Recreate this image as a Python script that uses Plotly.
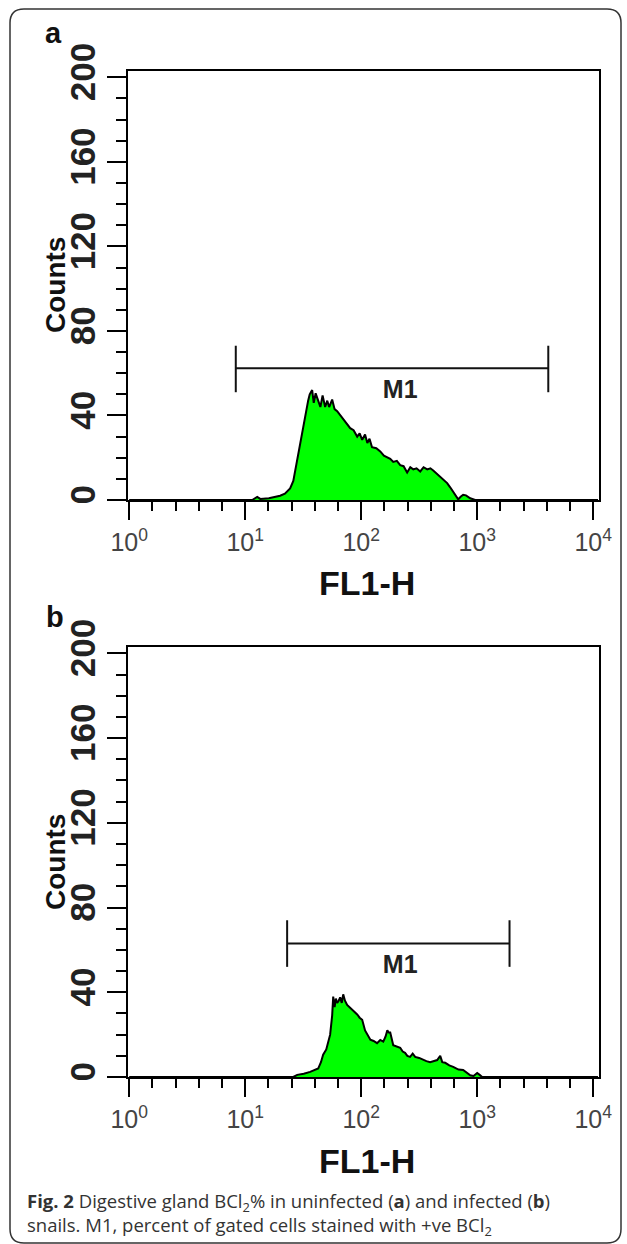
import plotly.graph_objects as go

W, H = 627, 1244

# ---------------- data ----------------
# Panel a (uninfected): FL1-H channel value vs counts
a_fl1 = [1, 11.5, 12.7, 13.5, 16, 18, 20, 22, 24.4, 26, 27, 28.5, 29.8, 31.5, 32.9, 34, 34.9, 36,
         37.8, 39, 40.5, 42.6, 44.5, 46.5, 48.9, 51, 53, 56.2, 59, 62.1, 66, 70, 74, 80.4, 86,
         92.4, 97, 102, 108, 113, 118, 124, 135, 146, 157, 168, 178, 189, 203, 217, 232, 249,
         265, 281, 300, 323, 345, 371, 395, 418, 450, 480, 515, 551, 585, 621, 655, 686, 720,
         757, 800, 871, 961, 11000]
a_counts = [0, 0, 1.5, 0.5, 0.8, 1.5, 2, 3, 5.5, 9, 14, 20, 27, 33, 39, 44, 47, 50,
            52, 46, 50.5, 47, 44, 49.5, 44, 47, 44, 47.5, 43, 42, 40, 38, 36.5, 34, 33,
            30, 31.5, 28.5, 31, 27, 29, 25, 24.5, 23, 21, 20, 19.5, 18, 18.5, 16.5, 16, 13,
            15.5, 14.5, 15, 13.5, 15.5, 14.5, 15, 14, 12.5, 11, 9.5, 8, 6, 4, 2, 0.3, 1.5,
            2.5, 2.2, 0.8, 0, 0]

# Panel b (infected)
b_fl1 = [1, 26, 28.1, 32, 36.3, 40, 42.6, 45, 47, 50, 52, 54, 56.2, 57.4, 59, 60.5, 62.1, 64,
         65.9, 68, 70, 72.5, 75.7, 79, 83.6, 88, 92.4, 97, 102, 108, 114, 120, 128, 137, 146,
         155, 162, 168, 173, 178, 189, 200, 217, 228, 239, 250, 264, 278, 292, 316, 342, 365,
         393, 420, 452, 480, 500, 530, 575, 621, 690, 757, 810, 871, 930, 1000, 1050, 1104,
         11000]
b_counts = [0, 0, 1, 1.5, 2.4, 3.5, 4, 7, 10.5, 13, 16, 20, 29, 38, 33, 37, 35, 36,
            37.6, 35, 39, 36, 34, 33, 32, 30.5, 29.5, 28, 27, 22, 20, 17.6, 17, 16, 17.5,
            16.7, 19, 22, 21, 21, 15, 14.5, 13.8, 12, 11.4, 10, 9.5, 11, 9.5, 9, 8, 7.5,
            7, 7.5, 8, 10, 7, 6.7, 5.5, 4.8, 3.5, 3.3, 2, 0.8, 0.5, 1.9, 1, 0,
            0]

# M1 gate markers: [left, right] FL1-H, [tick bottom, bar level, tick top], label position
m1_a_range = [8.3, 4100]
m1_b_range = [23, 1900]
m1_a_levels = [51, 62.4, 73]
m1_b_levels = [52, 63, 74]
m1_label_x = 217
m1_label_y = [51, 52]

x_tickvals = [1, 10, 100, 1000, 10000]
x_ticktext = ["10<sup>0</sup>", "10<sup>1</sup>", "10<sup>2</sup>", "10<sup>3</sup>", "10<sup>4</sup>"]
y_tickvals = [0, 40, 80, 120, 160, 200]
x_minor = [10 ** (d + k / 5) for d in range(4) for k in range(1, 5)]

caption = ("<b>Fig. 2</b> Digestive gland BCl<sub>2</sub>% in uninfected (<b>a</b>) "
           "and infected (<b>b</b>)<br>"
           "snails. M1, percent of gated cells stained with +ve BCl<sub>2</sub>")

# ---------------- layout helpers ----------------
def px(x):
    return x / W

def py(y):
    return 1 - y / H

FONT = "Liberation Sans, Arial, sans-serif"

fig = go.Figure()

panels = [
    dict(xa="x", ya="y", fl=a_fl1, ct=a_counts, rng=m1_a_range, lv=m1_a_levels, ly=m1_label_y[0]),
    dict(xa="x2", ya="y2", fl=b_fl1, ct=b_counts, rng=m1_b_range, lv=m1_b_levels, ly=m1_label_y[1]),
]
for p in panels:
    fig.add_trace(go.Scatter(
        x=p["fl"], y=p["ct"], mode="lines", fill="tozeroy", fillcolor="#00ff00",
        line=dict(color="black", width=2), xaxis=p["xa"], yaxis=p["ya"],
        hoverinfo="skip", showlegend=False))
    lo, hi = p["rng"]
    bot, mid, top = p["lv"]
    fig.add_trace(go.Scatter(
        x=[lo, lo, None, lo, hi, None, hi, hi],
        y=[bot, top, None, mid, mid, None, bot, top],
        mode="lines", line=dict(color="#111", width=2), xaxis=p["xa"], yaxis=p["ya"],
        hoverinfo="skip", showlegend=False))
    fig.add_trace(go.Scatter(
        x=[m1_label_x], y=[p["ly"]], mode="text", text=["M1"],
        textfont=dict(family=FONT, size=25, color="#222", weight="bold"),
        xaxis=p["xa"], yaxis=p["ya"], hoverinfo="skip", showlegend=False))

xdom = [px(128), px(599)]
ydom_a = [py(500), py(71)]
ydom_b = [py(1077), py(647)]

xaxis_common = dict(
    type="log", range=[-0.01, 4.05], domain=xdom, automargin=False,
    showline=True, linecolor="black", linewidth=2, mirror=True,
    ticks="outside", ticklen=18, tickwidth=2, tickcolor="black",
    tickmode="array", tickvals=x_tickvals, ticktext=x_ticktext,
    tickfont=dict(family=FONT, size=25, color="#444"),
    ticklabelstandoff=1,
    showgrid=False, zeroline=False,
    minor=dict(tickmode="array", tickvals=x_minor, ticks="outside", ticklen=9,
               tickwidth=2, tickcolor="black", showgrid=False),
)
yaxis_common = dict(
    range=[0, 203], automargin=False,
    showline=True, linecolor="black", linewidth=2, mirror=True,
    ticks="outside", ticklen=19, tickwidth=2, tickcolor="black",
    tickmode="array", tickvals=y_tickvals, tickangle=-90,
    tickfont=dict(family=FONT, size=35, color="#222", weight="bold"),
    ticklabelstandoff=-2,
    showgrid=False, zeroline=False,
    minor=dict(dtick=10, ticks="outside", ticklen=10, tickwidth=2,
               tickcolor="black", showgrid=False),
)

fig.update_layout(
    width=W, height=H, margin=dict(l=0, r=0, t=0, b=0, pad=0, autoexpand=False),
    paper_bgcolor="white", plot_bgcolor="white",
    xaxis=dict(xaxis_common, anchor="y"),
    yaxis=dict(yaxis_common, domain=ydom_a, anchor="x"),
    xaxis2=dict(xaxis_common, anchor="y2"),
    yaxis2=dict(yaxis_common, domain=ydom_b, anchor="x2"),
)

ann = []
def text(x, y, t, size, bold=True, color="#111", angle=0, xanchor="center", yanchor="middle",
         family=FONT, align="center"):
    ann.append(dict(x=px(x), y=py(y), xref="paper", yref="paper", text=t, showarrow=False,
                    textangle=angle, xanchor=xanchor, yanchor=yanchor, align=align,
                    font=dict(family=family, size=size, color=color,
                              weight="bold" if bold else "normal")))

text(53, 33, "a", 29)
text(55, 617, "b", 29)
text(55, 285, "Counts", 28, angle=-90)
text(55, 862, "Counts", 28, angle=-90)
text(367, 583, "FL1-H", 34)
text(367, 1161, "FL1-H", 34)
text(25, 1214, caption, 18.5, bold=False, color="#333", xanchor="left", family="Open Sans",
     align="left")
fig.update_layout(annotations=ann)

# rounded outer frame
x0, y0, x1, y1, r = 10, 9, 621, 1243, 14
path = (f"M {px(x0 + r)},{py(y0)} L {px(x1 - r)},{py(y0)} Q {px(x1)},{py(y0)} {px(x1)},{py(y0 + r)} "
        f"L {px(x1)},{py(y1 - r)} Q {px(x1)},{py(y1)} {px(x1 - r)},{py(y1)} "
        f"L {px(x0 + r)},{py(y1)} Q {px(x0)},{py(y1)} {px(x0)},{py(y1 - r)} "
        f"L {px(x0)},{py(y0 + r)} Q {px(x0)},{py(y0)} {px(x0 + r)},{py(y0)} Z")
fig.add_shape(type="path", path=path, xref="paper", yref="paper",
              line=dict(color="#333", width=1.5), fillcolor="rgba(0,0,0,0)", layer="above")

fig.write_html("out.html", config={"displayModeBar": False},
               post_script="document.body.style.margin='0';")
